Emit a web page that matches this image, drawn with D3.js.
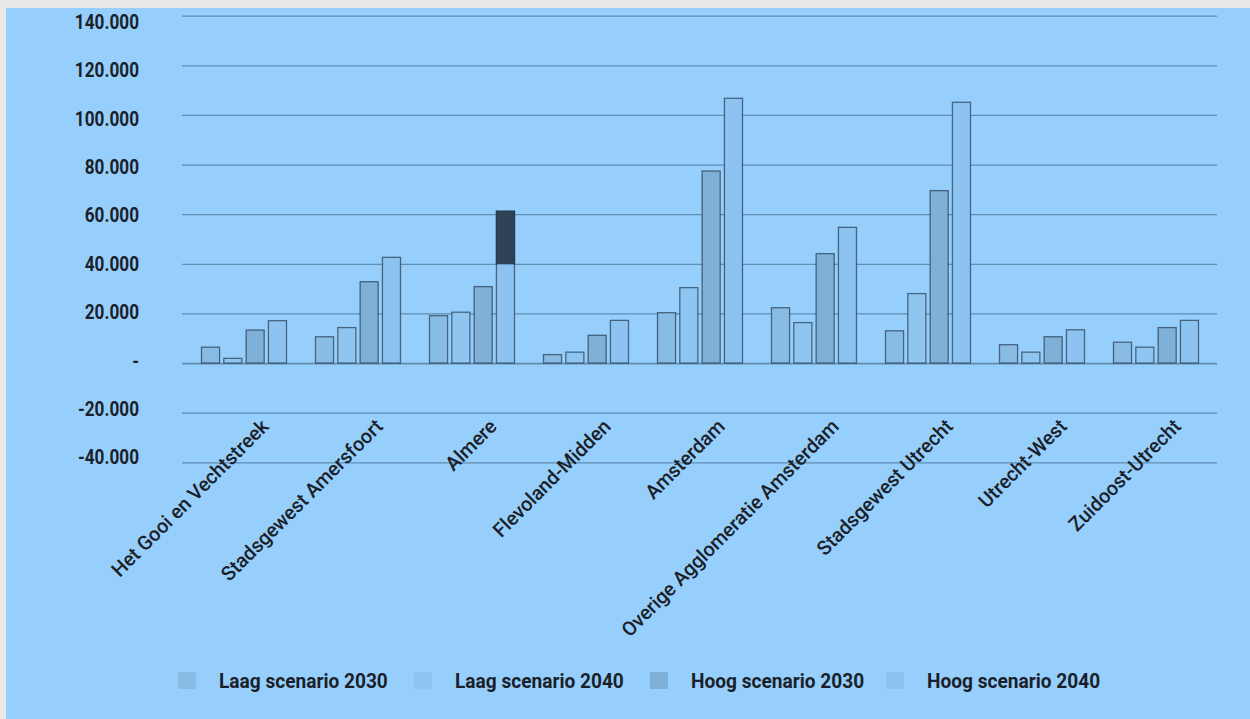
<!DOCTYPE html>
<html>
<head>
<meta charset="utf-8">
<script src="https://cdn.jsdelivr.net/npm/d3@7"></script>
<style>
  html, body { margin: 0; padding: 0; background: #e8e8e8; }
  svg { display: block; }
  text { font-family: Roboto, "DejaVu Sans", sans-serif; fill: #1b1f29; }
</style>
</head>
<body>
<svg id="chart" width="1250" height="719"></svg>
<script>
// Regions (categories on the x axis)
const regions = [
  "Het Gooi en Vechtstreek",
  "Stadsgewest Amersfoort",
  "Almere",
  "Flevoland-Midden",
  "Amsterdam",
  "Overige Agglomeratie Amsterdam",
  "Stadsgewest Utrecht",
  "Utrecht-West",
  "Zuidoost-Utrecht"
];

// Scenario series
const seriesNames = ["Laag scenario 2030", "Laag scenario 2040", "Hoog scenario 2030", "Hoog scenario 2040"];
const laag2030 = [6400, 10600, 19100, 3400, 20300, 22300, 13000, 7400, 8400];
const laag2040 = [1900, 14300, 20500, 4400, 30400, 16300, 28000, 4400, 6400];
const hoog2030 = [13300, 32800, 30800, 11200, 77400, 44100, 69500, 10600, 14300];
const hoog2040 = [17100, 42600, 61200, 17200, 106700, 54700, 105100, 13400, 17200];
const seriesValues = [laag2030, laag2040, hoog2030, hoog2040];

// Part of a bar emphasised in a dark tone (from this value up to the bar top)
const highlightRegion = "Almere";
const highlightSeries = "Hoog scenario 2040";
const highlightFrom = 40000;

// Y axis ticks
const yTicks = [-40000, -20000, 0, 20000, 40000, 60000, 80000, 100000, 120000, 140000];

const colors = ["#88bce5", "#8ec5f1", "#7fb0d8", "#8cc3f1"];

// horizontal squeeze giving the text a condensed look
const SQUEEZE_Y = 0.86;
const SQUEEZE_CAT = 0.98;
const SQUEEZE_LEGEND = 0.91;

const svg = d3.select("#chart");

// panel
svg.append("rect").attr("x", 6).attr("y", 8).attr("width", 1244).attr("height", 711).attr("fill", "#96cffc");

const y = d3.scaleLinear().domain([-40000, 140000]).range([462.3, 15.7]);
const yLabel = d3.scaleLinear().domain([-40000, 140000]).range([457.5, 22]);
const x0 = d3.scaleBand().domain(regions).range([187, 1213]).padding(0);
const x1 = d3.scaleBand().domain(seriesNames).range([14.5, 99.5]).paddingInner(0.19);

const nl = d3.formatLocale({ decimal: ",", thousands: ".", grouping: [3], currency: ["€", ""], minus: "-" });
const fmt = nl.format(",.0f");

// gridlines
const grid = svg.append("g").attr("transform", "translate(182,0)")
  .call(d3.axisLeft(y).tickValues(yTicks).tickSize(-1035).tickFormat(""));
grid.select(".domain").remove();
grid.selectAll(".tick line")
  .attr("stroke", "#5a86a8")
  .attr("stroke-width", d => d === 0 ? 1.8 : 1.2)
  .attr("stroke-opacity", 0.9);

// y labels
const yAx = svg.append("g").attr("transform", "translate(139,0)")
  .call(d3.axisLeft(yLabel).tickValues(yTicks).tickSize(0).tickPadding(0)
    .tickFormat(d => d === 0 ? "-" : fmt(d)));
yAx.select(".domain").remove();
yAx.selectAll("text")
  .style("font-size", "20px")
  .style("font-weight", "bold")
  .attr("fill", "#1b1f29")
  .attr("transform", `scale(${SQUEEZE_Y},1)`);

// bars
const groups = svg.append("g").selectAll("g")
  .data(regions)
  .join("g")
  .attr("transform", d => `translate(${x0(d)},0)`);

groups.selectAll("rect.bar")
  .data((r, i) => seriesNames.map((s, j) => ({ region: r, series: s, value: seriesValues[j][i], color: colors[j] })))
  .join("rect")
  .attr("class", "bar")
  .attr("x", d => x1(d.series))
  .attr("width", x1.bandwidth())
  .attr("y", d => y(Math.max(0, d.value)))
  .attr("height", d => Math.abs(y(d.value) - y(0)))
  .attr("fill", d => d.color)
  .attr("stroke", "#1f2f40")
  .attr("stroke-opacity", 0.65)
  .attr("stroke-width", 1.3);

// highlighted segment
const hIdx = regions.indexOf(highlightRegion);
const sIdx = seriesNames.indexOf(highlightSeries);
const hVal = seriesValues[sIdx][hIdx];
svg.append("rect")
  .attr("x", x0(highlightRegion) + x1(highlightSeries))
  .attr("width", x1.bandwidth())
  .attr("y", y(hVal))
  .attr("height", y(highlightFrom) - y(hVal))
  .attr("fill", "#2e4356")
  .attr("stroke", "#1f2f40")
  .attr("stroke-opacity", 0.65)
  .attr("stroke-width", 1.3);

// category axis
const xAx = svg.append("g").attr("transform", "translate(0,363.7)")
  .call(d3.axisBottom(x0).tickSize(0).tickFormat(d => d));
xAx.select(".domain").remove();
xAx.selectAll("text")
  .style("font-size", "20px")
  .style("font-weight", "500")
  .attr("fill", "#1b1f29")
  .attr("text-anchor", "end")
  .attr("dy", 0)
  .attr("y", 0)
  .attr("transform", `translate(26,64) rotate(-45) scale(${SQUEEZE_CAT},1)`);

// legend
const legend = svg.append("g").selectAll("g")
  .data(seriesNames)
  .join("g")
  .attr("transform", (d, i) => `translate(${178 + i * 236},672)`);
legend.append("rect")
  .attr("width", 18).attr("height", 17)
  .attr("fill", (d, i) => colors[i]);
legend.append("text")
  .attr("transform", `translate(41,15.5) scale(${SQUEEZE_LEGEND},1)`)
  .style("font-size", "21px")
  .style("font-weight", "bold")
  .text(d => d);
</script>
</body>
</html>
